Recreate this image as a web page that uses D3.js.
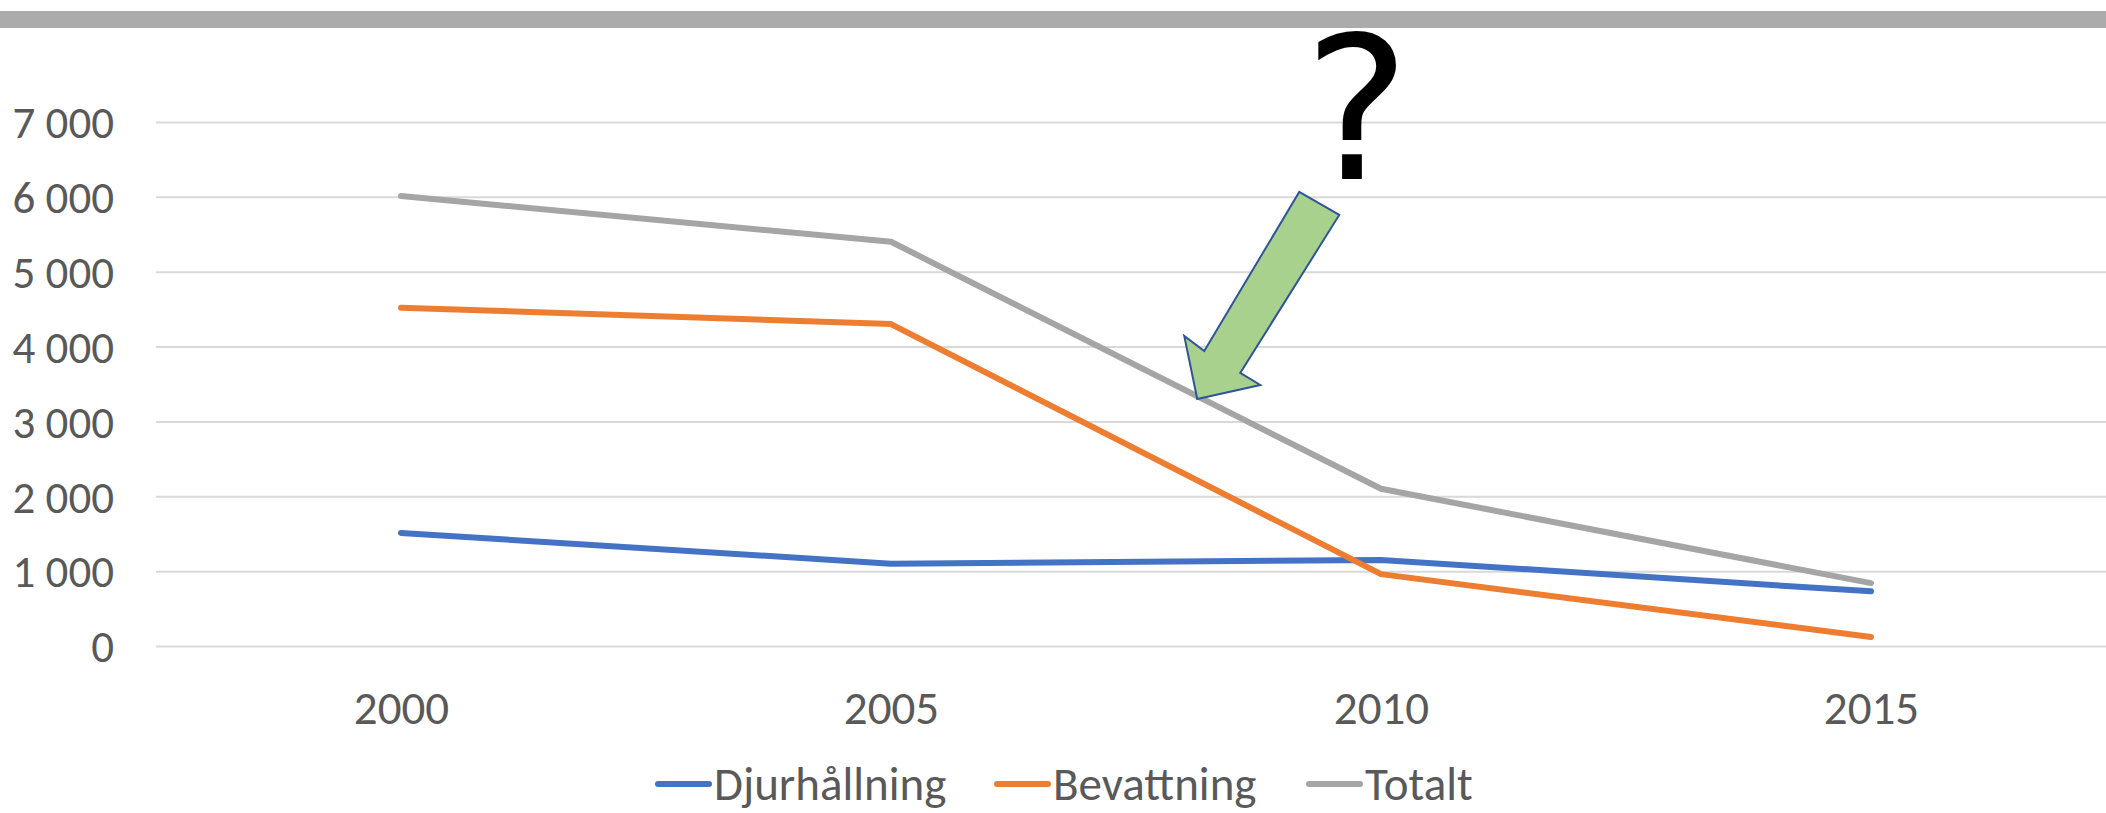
<!DOCTYPE html>
<html>
<head>
<meta charset="utf-8">
<script src="https://cdn.jsdelivr.net/npm/d3@7"></script>
<style>
  body { margin: 0; background: #fff; }
  text { font-family: Carlito, "Liberation Sans", Arial, sans-serif; fill: #595959; }
</style>
</head>
<body>
<svg id="chart"></svg>
<script>
// data
const years = ['2000', '2005', '2010', '2015'];
const djurhallning = [1510, 1100, 1150, 730];
const bevattning = [4520, 4300, 960, 120];
const totalt = [6010, 5400, 2100, 840];
const yTicks = [0, 1000, 2000, 3000, 4000, 5000, 6000, 7000];

const seriesNames = ['Djurhållning', 'Bevattning', 'Totalt'];
const seriesColors = ['#4472C4', '#ED7D31', '#A5A5A5'];

const width = 2106;
const height = 813;

const svg = d3.select('#chart')
  .attr('width', width)
  .attr('height', height);

svg.append('rect')
  .attr('width', width)
  .attr('height', height)
  .attr('fill', '#fff');

// grey band at the top
svg.append('rect')
  .attr('x', 0)
  .attr('y', 11)
  .attr('width', width)
  .attr('height', 17)
  .attr('fill', '#ABABAB');

// scales
const xScale = d3.scalePoint()
  .domain(years)
  .range([156, 2116])
  .padding(0.5);

const yScale = d3.scaleLinear()
  .domain([0, 7000])
  .range([646, 122]);

const fmt = (d) => d3.format(',')(d).replace(/,/g, ' ');

// gridlines + y labels
svg.append('g')
  .attr('transform', 'translate(156,0)')
  .call(d3.axisLeft(yScale).tickValues(yTicks).tickSize(-(width - 156)).tickFormat(fmt))
  .call((g) => g.select('.domain').remove())
  .call((g) => g.selectAll('.tick line').attr('stroke', '#D9D9D9').attr('stroke-width', 2))
  .call((g) => g.selectAll('.tick text')
    .attr('x', -42)
    .attr('dy', '0.35em')
    .attr('fill', '#595959')
    .style('font-size', '45px')
    .style('font-family', 'Carlito, "Liberation Sans", Arial, sans-serif'));

// x labels
svg.append('g')
  .attr('transform', 'translate(0,646)')
  .call(d3.axisBottom(xScale).tickSize(0))
  .call((g) => g.select('.domain').remove())
  .call((g) => g.selectAll('.tick text')
    .attr('y', 62)
    .attr('dy', '0.35em')
    .attr('fill', '#595959')
    .style('font-size', '47px')
    .style('font-family', 'Carlito, "Liberation Sans", Arial, sans-serif'));

// lines
const line = d3.line()
  .x((d, i) => xScale(years[i]))
  .y((d) => yScale(d));

[djurhallning, bevattning, totalt].forEach((values, i) => {
  svg.append('path')
    .datum(values)
    .attr('fill', 'none')
    .attr('stroke', seriesColors[i])
    .attr('stroke-width', 6)
    .attr('stroke-linejoin', 'round')
    .attr('stroke-linecap', 'round')
    .attr('d', line);
});

// green arrow pointing at the Totalt line between 2005 and 2010
const tipX = xScale('2005') + (xScale('2010') - xScale('2005')) * 0.625;
const tipY = yScale(3300);
const arrowShape = [[102, -207], [142, -184], [43, -26], [63, -14], [0, 0], [-13, -63], [7, -48]];
svg.append('polygon')
  .attr('points', arrowShape.map((p) => [tipX + p[0], tipY + p[1]].join(',')).join(' '))
  .attr('fill', '#A9D18E')
  .attr('stroke', '#2F5597')
  .attr('stroke-width', 2)
  .attr('stroke-linejoin', 'miter');

// question mark (small font scaled up so its box stays inside the page)
svg.append('text')
  .attr('transform', 'translate(1357,179) scale(1.9)')
  .attr('text-anchor', 'middle')
  .style('font-size', '105px')
  .style('font-family', '"DejaVu Sans", sans-serif')
  .style('fill', '#000')
  .text('?');

// legend
const legendX = [658, 997, 1309];
const legend = svg.selectAll('.legend')
  .data(seriesNames)
  .enter()
  .append('g')
  .attr('class', 'legend')
  .attr('transform', (d, i) => `translate(${legendX[i]}, 784)`);

legend.append('line')
  .attr('x1', 0)
  .attr('x2', 51)
  .attr('stroke', (d, i) => seriesColors[i])
  .attr('stroke-width', 6)
  .attr('stroke-linecap', 'round');

legend.append('text')
  .attr('x', 56)
  .attr('dy', '0.35em')
  .style('font-size', '47px')
  .text((d) => d);
</script>
</body>
</html>
